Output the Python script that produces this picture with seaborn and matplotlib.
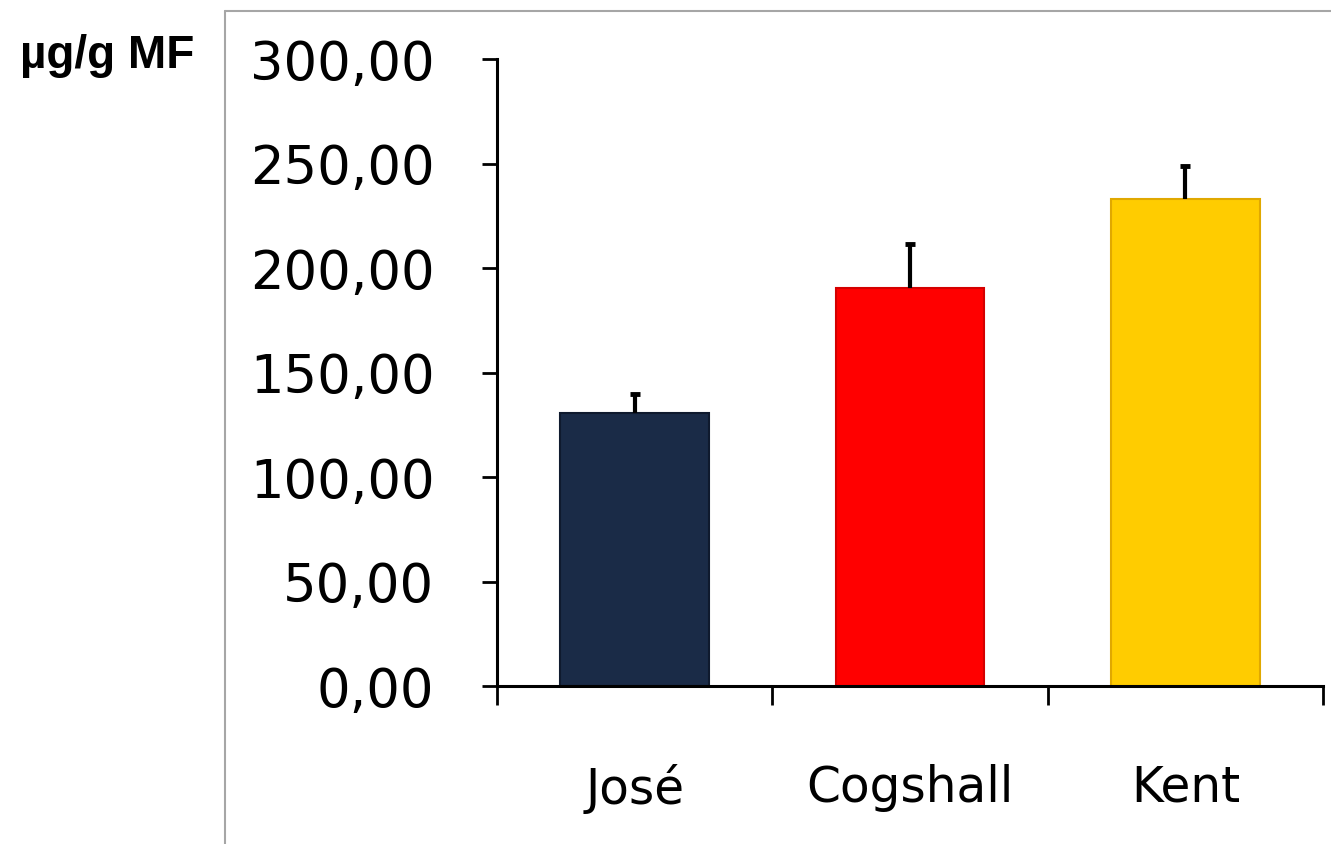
import matplotlib
matplotlib.use("Agg")
import matplotlib.pyplot as plt
from matplotlib.lines import Line2D
from matplotlib.ticker import FixedLocator, FuncFormatter
import numpy as np
import pandas as pd
import seaborn as sns

# Carotenoid content per cultivar (mean and upper error)
cultivars = ["José", "Cogshall", "Kent"]
means = [130.8, 190.6, 233.0]
errors = [9.0, 21.0, 16.0]
bar_colors = ["#1a2b47", "#ff0000", "#ffcc00"]
edge_colors = ["#0f1a2e", "#d40000", "#e0a800"]
y_ticks = [0, 50, 100, 150, 200, 250, 300]
unit_label = "µg/g MF"

sns.set_theme(style="white")
plt.rcParams["font.family"] = ["DejaVu Sans"]
plt.rcParams["text.color"] = "black"
plt.rcParams["xtick.color"] = "black"
plt.rcParams["ytick.color"] = "black"

df = pd.DataFrame({"cultivar": cultivars, "value": means})

fig = plt.figure(figsize=(13.31, 8.44), dpi=100)
ax = fig.add_axes([0.3734, 0.1872, 0.6206, 0.7428])

sns.barplot(data=df, x="cultivar", y="value", hue="cultivar",
            palette=bar_colors, saturation=1, width=0.54, legend=False, ax=ax,
            errorbar=None, linewidth=1.5)
for patch, ec in zip(ax.patches, edge_colors):
    patch.set_edgecolor(ec)

# Upper-only error bars
xpos = np.arange(len(cultivars))
_, caps, _ = ax.errorbar(xpos, means, yerr=[np.zeros(len(errors)), errors], fmt="none",
                         ecolor="black", elinewidth=3, capsize=3.5, capthick=3.5,
                         zorder=5)
caps[0].set_visible(False)

ax.set_ylim(0, 300)
ax.set_xlim(-0.5, len(cultivars) - 0.5)
ax.set_xlabel("")
ax.set_ylabel("")

# Y axis: ticks with comma decimal labels
ax.yaxis.set_major_locator(FixedLocator(y_ticks))
ax.yaxis.set_major_formatter(FuncFormatter(lambda v, p: f"{v:.2f}".replace(".", ",")))
ax.tick_params(axis="y", which="major", direction="out", length=11, width=2,
               color="black", labelcolor="black", pad=34, labelsize=38, left=True)

# X axis: tick marks at category boundaries, labels centred on bars
ax.xaxis.set_major_locator(FixedLocator(np.arange(-0.5, len(cultivars), 1.0)))
ax.xaxis.set_minor_locator(FixedLocator(xpos))
ax.xaxis.set_major_formatter(FuncFormatter(lambda v, p: ""))
ax.xaxis.set_minor_formatter(FuncFormatter(lambda v, p: cultivars[int(round(v))]))
ax.tick_params(axis="x", which="major", direction="out", length=14, width=2,
               color="black", bottom=True)
ax.tick_params(axis="x", which="minor", length=0, pad=56, labelsize=35,
               labelcolor="black")

for side in ["top", "right"]:
    ax.spines[side].set_visible(False)
for side in ["left", "bottom"]:
    ax.spines[side].set_color("black")
    ax.spines[side].set_linewidth(2.2)

# Unit label above the value scale
fig.text(20 / 1331, 1 - 56 / 844, unit_label, fontsize=33, fontweight="bold",
         family=["Liberation Sans", "DejaVu Sans"], ha="left", va="center",
         color="black")

# Thin grey frame around the chart area
frame_x, frame_y = 225 / 1331, 1 - 11 / 844
fig.add_artist(Line2D([frame_x, 1.01], [frame_y, frame_y], transform=fig.transFigure,
                      color="#a6a6a6", linewidth=1.5))
fig.add_artist(Line2D([frame_x, frame_x], [-0.01, frame_y], transform=fig.transFigure,
                      color="#a6a6a6", linewidth=1.5))

fig.savefig("out.png", dpi=100)
